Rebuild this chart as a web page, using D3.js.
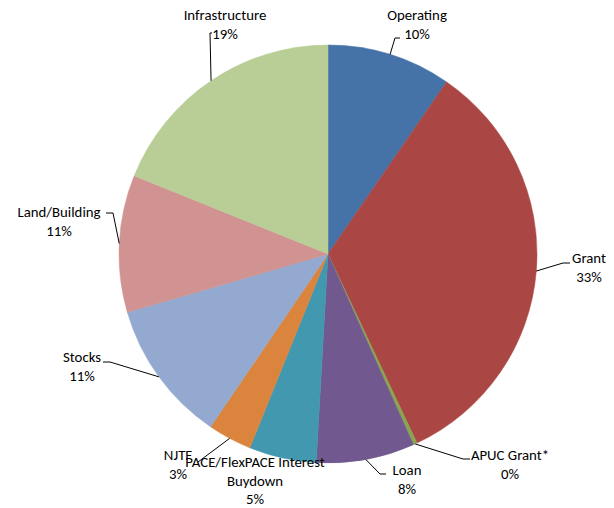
<!DOCTYPE html>
<html><head><meta charset="utf-8">
<script src="https://cdn.jsdelivr.net/npm/d3@7"></script>
<style>body{margin:0;background:#fff}svg text{font-family:Carlito,Calibri,"Liberation Sans",sans-serif;font-size:14.8px;fill:#000}</style>
</head><body>
<svg id="c" width="614" height="508"></svg>
<script>
const categories = ["Operating","Grant","APUC Grant*","Loan","PACE/FlexPACE Interest Buydown","NJTF","Stocks","Land/Building","Infrastructure"];
const values = [9.6, 33.4, 0.3, 7.6, 5.2, 3.4, 11.0, 10.6, 18.9];
const colors = ["#4572A7","#AA4643","#89A54E","#71588F","#4198AF","#DB843D","#93A9CF","#D19392","#B9CD96"];
// label text lines (category split for wrapping)
const labelLines = [["Operating"],["Grant"],["APUC Grant*"],["Loan"],["PACE/FlexPACE Interest","Buydown"],["NJTF"],["Stocks"],["Land/Building"],["Infrastructure"]];
// layout: text center x, first baseline y, elbow point, end point of leader (null = no leader)
const labelLayout = [
  {x:417,y:20,elbow:[395,38],end:[400,38]},
  {x:589,y:263,elbow:[563,263],end:[570,263]},
  {x:510,y:460,elbow:[463,459],end:[470,459]},
  {x:407,y:475,elbow:[380,474],end:[386,474]},
  {x:255,y:467,elbow:null,end:null},
  {x:178,y:460,elbow:[198,462],end:[198,462]},
  {x:82,y:362,elbow:[110,362],end:[103,362]},
  {x:59,y:217,elbow:[113,213],end:[106,213]},
  {x:225,y:20,elbow:[210,33],end:[212,33]}
];
const svg = d3.select("#c");
const cx = 328, cy = 254, R = 209;
const g = svg.append("g").attr("transform",`translate(${cx},${cy})`);
const pie = d3.pie().sort(null).value(d=>d);
const arcs = pie(values);
const arc = d3.arc().innerRadius(0).outerRadius(R);
g.selectAll("path.s").data(arcs).join("path").attr("class","s")
  .attr("d",arc).attr("fill",(d,i)=>colors[i]).attr("stroke",(d,i)=>colors[i]).attr("stroke-width",0.5);
const total = d3.sum(values);
const lblG = svg.append("g");
arcs.forEach((a,i)=>{
  const L = labelLayout[i];
  const mid = (a.startAngle+a.endAngle)/2;
  const ex = cx + R*Math.sin(mid), ey = cy - R*Math.cos(mid);
  if (L.elbow) {
    lblG.append("polyline").attr("points",[[ex,ey],L.elbow,L.end].map(p=>p.join(",")).join(" "))
      .attr("fill","none").attr("stroke","#000").attr("stroke-width",1);
  }
  const lines = labelLines[i].concat([Math.round(values[i]/total*100)+"%"]);
  const lh = 18.5;
  lines.forEach((t,k)=>{
    lblG.append("text").attr("x",L.x).attr("y",L.y+k*lh).attr("text-anchor","middle").text(t);
  });
});
</script>
</body></html>
